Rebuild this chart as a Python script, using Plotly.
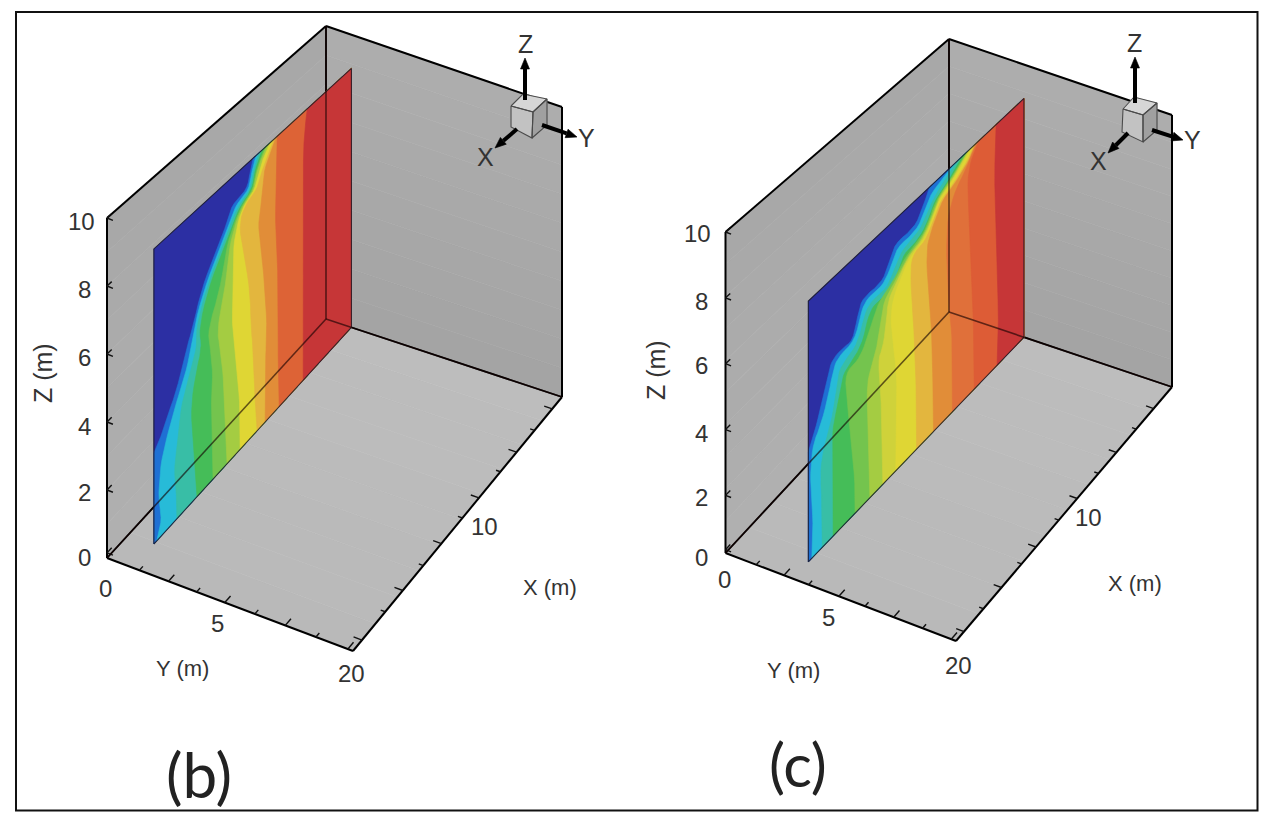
import numpy as np
import plotly.graph_objects as go

# ---- values: contour-band edges on the vertical slice, X = depth (m), Z = height (m) ----
B_EDGE_X = [
    [18, 17.45, 16.8, 15.9, 15, 14.5, 13.6, 12.25, 11.4, 10.9, 9.5, 9.2, 8.95],
    [17.73, 17.27, 17.54, 17.54, 17.36, 16.8, 16.08, 15.08, 14.6, 14.39, 13.43, 12.06, 11.24, 10.51, 9.32, 9.05, 8.68],
    [15.9, 15.9, 16.17, 15.81, 15.53, 14.71, 14.07, 14.16, 13.25, 11.88, 11.06, 10.23, 9.18, 8.91, 8.41],
    [14.07, 14.25, 14.44, 14.62, 14.16, 13.61, 13.89, 13.07, 11.7, 10.87, 10.05, 9.05, 8.77, 8.13],
    [12.61, 12.7, 12.79, 12.61, 12.88, 13.07, 11.97, 11.42, 10.74, 9.96, 8.95, 8.68, 7.86],
    [11.33, 11.42, 11.51, 11.7, 11.97, 12.24, 11.51, 11.15, 10.6, 9.87, 8.86, 8.59, 7.68],
    [10.14, 10.14, 10.14, 10.42, 10.6, 10.87, 10.78, 10.78, 10.42, 9.78, 8.77, 8.45, 7.4],
    [8.59, 8.77, 8.86, 8.95, 9.14, 9.23, 9.87, 10.23, 9.69, 8.59, 8.13, 7.04],
    [7.86, 7.86, 7.86, 7.77, 7.68, 7.86, 8.22, 8.5, 8.22, 8.13, 7.95, 6.85],
    [6.58, 6.67, 6.67, 6.67, 6.94, 6.85, 6.76],
    [4.39, 4.39, 4.39, 4.39, 4.02],
]
B_EDGE_Z = [
    [2.71, 2.92, 3.39, 3.9, 4.9, 5.26, 6.28, 6.98, 7.49, 7.95, 7.98, 8.51, 8.8],
    [0, 0.46, 1.15, 1.45, 2.2, 2.79, 3.44, 4.14, 4.78, 5.22, 6.13, 6.92, 7.44, 7.83, 7.92, 8.47, 8.8],
    [0, 0.57, 1.57, 2.35, 3.26, 4.01, 4.59, 5.15, 6.07, 6.86, 7.38, 7.74, 7.87, 8.42, 8.8],
    [0, 0.89, 1.87, 2.94, 3.83, 4.44, 5.05, 6.01, 6.8, 7.32, 7.68, 7.83, 8.38, 8.8],
    [0, 1.25, 2.3, 3.29, 4.19, 4.78, 5.65, 6.72, 7.27, 7.65, 7.8, 8.35, 8.8],
    [0, 0.78, 1.85, 2.97, 3.88, 4.5, 5.5, 6.63, 7.23, 7.62, 7.77, 8.32, 8.8],
    [0, 0.31, 1.35, 2.52, 3.4, 4.03, 5.25, 6.5, 7.17, 7.59, 7.74, 8.27, 8.8],
    [0, 0.84, 1.95, 2.81, 3.41, 4.72, 6.2, 7.11, 7.56, 7.68, 8.17, 8.8],
    [0, 0.49, 1.58, 2.38, 2.89, 4.24, 5.64, 6.54, 7.08, 7.53, 8.11, 8.8],
    [0, 1.13, 2.52, 4.23, 6.01, 7.11, 8.8],
    [0, 1.0, 4.29, 7.81, 8.8],
]
C_EDGE_X = [
    [18.6, 18.0, 17.4, 16.89, 16.54, 15.69, 14.74, 14.3, 13.89, 12.26, 11.74, 11.14, 9.43, 8.74, 8.14],
    [18.3, 18.17, 18.34, 18.43, 18.17, 17.57, 16.89, 16.46, 16.03, 14.57, 14.06, 13.54, 12.17, 11.49, 10.97, 9.26, 8.57, 8.06, 6.09],
    [17.4, 17.4, 17.57, 17.31, 16.71, 16.29, 16.03, 15.43, 14.32, 13.72, 13.12, 11.83, 11.14, 10.54, 9.17, 8.32, 7.72, 5.74],
    [16.46, 16.46, 16.46, 16.54, 16.03, 15.69, 15.0, 13.97, 13.46, 12.86, 11.57, 10.89, 10.37, 9.17, 8.32, 7.72, 6.52, 5.32],
    [14.57, 14.57, 15.0, 15.26, 15.43, 14.32, 13.72, 12.86, 12.43, 11.23, 10.29, 9.04, 8.23, 7.63, 6.43, 4.97],
    [13.29, 13.46, 13.54, 13.46, 12.86, 12.43, 12.09, 11.06, 10.12, 8.92, 8.14, 7.54, 6.34, 4.8],
    [12.17, 12.26, 12.6, 12.17, 11.83, 11.74, 10.89, 10.03, 8.79, 8.06, 7.46, 6.22, 4.72],
    [11.06, 10.97, 10.97, 11.32, 11.49, 11.32, 10.72, 9.86, 8.66, 7.97, 7.37, 6.09, 4.55],
    [9.26, 9.26, 9.34, 9.43, 9.6, 9.77, 9.69, 8.49, 7.89, 7.2, 5.92, 4.89, 4.29],
    [7.8, 7.8, 7.89, 7.89, 8.32, 8.4, 8.14, 7.72, 7.03, 5.74, 4.72, 4.2],
    [6.17, 6.17, 6.17, 6.43, 6.69, 6.6, 5.83, 5.06, 4.46, 4.03],
    [4.29, 4.29, 4.46, 4.72, 4.89, 4.46, 3.86],
    [2.32, 2.15, 2.57, 2.4],
]
C_EDGE_Z = [
    [3.58, 4.07, 4.83, 5.52, 5.82, 5.89, 5.8, 6.54, 6.91, 6.8, 7.18, 7.7, 7.6, 8.02, 8.5],
    [0, 0.97, 2.02, 2.93, 3.71, 4.01, 4.73, 5.46, 5.73, 5.74, 6.48, 6.75, 6.67, 7.02, 7.5, 7.43, 7.85, 8.24, 8.5],
    [0, 1.32, 2.5, 3.16, 3.68, 4.41, 5.2, 5.4, 5.54, 6.32, 6.52, 6.44, 6.86, 7.24, 7.3, 7.65, 8.04, 8.5],
    [0, 1.51, 2.4, 3.52, 4.21, 4.94, 5.14, 5.35, 6.09, 6.33, 6.18, 6.59, 7.07, 7.06, 7.35, 7.87, 8.1, 8.5],
    [0, 1.09, 2.92, 4.02, 4.97, 4.98, 5.25, 5.99, 6.27, 6.48, 6.9, 7.01, 7.31, 7.84, 8.07, 8.5],
    [0, 1.98, 3.35, 4.08, 4.49, 5.36, 6.13, 6.42, 6.84, 6.96, 7.28, 7.8, 8.04, 8.5],
    [0, 2.61, 4.32, 4.59, 5.37, 6.01, 6.35, 6.8, 6.91, 7.25, 7.77, 7.99, 8.5],
    [0, 2.1, 3.25, 4.5, 5.24, 5.84, 6.29, 6.74, 6.86, 7.22, 7.74, 7.94, 8.5],
    [0, 1.41, 2.6, 3.76, 4.74, 5.93, 6.74, 6.8, 7.18, 7.68, 7.87, 8.17, 8.5],
    [0, 0.82, 2.22, 3.14, 5.36, 6.42, 6.83, 7.15, 7.64, 7.84, 8.14, 8.5],
    [0, 1.31, 2.45, 3.59, 5.41, 6.93, 7.6, 7.89, 8.29, 8.5],
    [0, 1.22, 3.59, 6.02, 7.58, 8.18, 8.5],
    [0, 1.48, 6.33, 8.5],
]

# tick positions along the three box axes
B_Z_TICKS = [0.15, 2, 4, 6, 8, 10]
C_Z_TICKS = [0.35, 2, 4, 6, 8, 10]
B_Y_MAJOR = [2.57, 4.88, 7.32, 9.8]
B_Y_MINOR = [1.36, 3.73, 6.1, 8.54]
C_Y_MAJOR = [2.6, 5.0, 7.36, 9.8]
C_Y_MINOR = [1.37, 3.68, 6.13, 8.59]
B_X_MAJOR = [1.0, 4.6, 8.3, 11.9, 15.5, 19.2]
B_X_MINOR = [2.8, 6.2, 9.9, 13.6, 17.1]
C_X_MAJOR = [1.8, 5.4, 9.1, 12.9, 16.0, 19.3]
C_X_MINOR = [3.5, 7.1, 10.8, 14.2, 17.6]

# ---- styling ----
DARK_BLUE, BLUE, CYAN, TEAL = "#2c2fa3", "#1f70d4", "#27bbd8", "#38bea6"
GREEN, LT_GREEN, YL_GREEN, PALE_YELLOW = "#45bd58", "#74c44e", "#a4cc42", "#cfd23a"
YELLOW, YL_ORANGE, ORANGE = "#dfd634", "#e3b63e", "#e18d38"
DEEP_ORANGE, RED_ORANGE, RED = "#e0703a", "#dd5c36", "#c63637"

B_COLORS = [BLUE, CYAN, TEAL, GREEN, LT_GREEN, YL_GREEN, YELLOW, YL_ORANGE, ORANGE, "#dd6336", RED]
C_COLORS = [BLUE, CYAN, TEAL, GREEN, LT_GREEN, YL_GREEN, PALE_YELLOW, YELLOW, YL_ORANGE, ORANGE,
            DEEP_ORANGE, RED_ORANGE, RED]

FONT = "Liberation Sans"
TEXT_COLOR = "#333333"

# view of each box: floor corners and top-of-wall corners on the page
PANEL_B = dict(
    z_floor=0.0,
    floor=dict(front_left=(107, 558), front_right=(353, 651), back_right=(562, 397), back_left=(326, 319)),
    wall_height=dict(front_left=340, front_right=337, back_right=290, back_left=293),
    slice=dict(x_front=18.16, y_front=1.07, y_back=1.11, z_front=8.8, z_back=8.85, x_span=18.0, z_span=8.8),
    edge_x=B_EDGE_X, edge_z=B_EDGE_Z, colors=B_COLORS,
    z_ticks=B_Z_TICKS, y_major=B_Y_MAJOR, y_minor=B_Y_MINOR, x_major=B_X_MAJOR, x_minor=B_X_MINOR,
    labels=[("10", 81, 221), ("8", 84, 289), ("6", 84, 357), ("4", 84, 426), ("2", 84, 492), ("0", 84, 557),
            ("0", 105, 588), ("5", 217, 623), ("20", 351, 673), ("10", 484, 526)],
    titles=[("Y (m)", 182, 668), ("X (m)", 550, 587)],
    z_title=(43, 373),
    cube=dict(top=[(511, 106), (523, 94), (547, 99), (533, 112)],
              left=[(511, 106), (533, 112), (532, 138), (511, 127)],
              right=[(533, 112), (547, 99), (547, 125), (532, 138)]),
    arrows=[((525, 100), (525, 58)), ((542, 125), (577, 137)), ((517, 129), (495, 148))],
    triad_labels=[("Z", 525, 44), ("Y", 586, 138), ("X", 485, 157)],
    tag=("(b)", 199, 774, 62),
)
PANEL_C = dict(
    z_floor=0.25,
    floor=dict(front_left=(725.5, 553), front_right=(956, 641), back_right=(1172, 387), back_left=(949, 312)),
    wall_height=dict(front_left=321, front_right=320, back_right=272, back_left=273),
    slice=dict(x_front=18.7, y_front=3.0, y_back=3.43, z_front=8.26, z_back=8.79, x_span=18.6, z_span=8.5),
    edge_x=C_EDGE_X, edge_z=C_EDGE_Z, colors=C_COLORS,
    z_ticks=C_Z_TICKS, y_major=C_Y_MAJOR, y_minor=C_Y_MINOR, x_major=C_X_MAJOR, x_minor=C_X_MINOR,
    labels=[("10", 697, 233), ("8", 701, 301), ("6", 701, 365), ("4", 701, 433), ("2", 701, 497), ("0", 701, 557),
            ("0", 724, 579), ("5", 828, 617), ("20", 958, 665), ("10", 1088, 517)],
    titles=[("Y (m)", 793, 670), ("X (m)", 1135, 583)],
    z_title=(656, 370),
    cube=dict(top=[(1123, 109), (1134, 97), (1157, 103), (1143, 115)],
              left=[(1123, 109), (1143, 115), (1143, 142), (1122, 132)],
              right=[(1143, 115), (1157, 103), (1157, 130), (1143, 142)]),
    arrows=[((1135, 103), (1135, 57)), ((1152, 130), (1183, 140)), ((1128, 133), (1108, 153))],
    triad_labels=[("Z", 1134, 43), ("Y", 1192, 140), ("X", 1098, 161)],
    tag=("(c)", 798, 764, 60),
)


def make_view(panel):
    """Return a function taking world (X, Y, Z) to the page.

    The floor is placed by a plane homography; walls rise straight up from it
    with a height blended between the four corners.
    """
    fl, hg, z0 = panel["floor"], panel["wall_height"], panel["z_floor"]
    square = [((0, 0), fl["front_left"]), ((1, 0), fl["front_right"]),
              ((1, 1), fl["back_right"]), ((0, 1), fl["back_left"])]
    rows, rhs = [], []
    for (s, t), (u, v) in square:
        rows.append([s, t, 1, 0, 0, 0, -u * s, -u * t])
        rows.append([0, 0, 0, s, t, 1, -v * s, -v * t])
        rhs += [u, v]
    H = np.append(np.linalg.solve(np.array(rows, float), np.array(rhs, float)), 1.0).reshape(3, 3)

    def view(pts):
        pts = np.asarray(pts, float)
        s, t = pts[:, 1] / 10.0, (20.0 - pts[:, 0]) / 20.0
        w = H @ np.vstack([s, t, np.ones(len(pts))])
        u, v = w[0] / w[2], w[1] / w[2]
        height = (hg["front_left"] * (1 - s) * (1 - t) + hg["front_right"] * s * (1 - t)
                  + hg["back_left"] * (1 - s) * t + hg["back_right"] * s * t)
        return np.c_[u, v - height * (pts[:, 2] - z0) / (10.0 - z0)]

    return view


def chaikin(pts, rounds=2):
    """Round off the corners of a polyline, keeping both ends fixed."""
    for _ in range(rounds):
        q = 0.75 * pts[:-1] + 0.25 * pts[1:]
        r = 0.25 * pts[:-1] + 0.75 * pts[1:]
        mid = np.empty((2 * len(q), 2))
        mid[0::2], mid[1::2] = q, r
        pts = np.vstack([pts[0], mid, pts[-1]])
    return pts


fig = go.Figure()


def polygon(pts, color):
    pts = np.asarray(pts, float)
    fig.add_trace(go.Scatter(x=list(pts[:, 0]) + [pts[0, 0]], y=list(pts[:, 1]) + [pts[0, 1]],
                             mode="lines", fill="toself", fillcolor=color,
                             line=dict(color=color, width=0.6), hoverinfo="skip", showlegend=False))


def polyline(pts, color, width):
    pts = np.asarray(pts, float)
    fig.add_trace(go.Scatter(x=pts[:, 0], y=pts[:, 1], mode="lines",
                             line=dict(color=color, width=width), hoverinfo="skip", showlegend=False))


def segments(pairs, color, width):
    xs, ys = [], []
    for a, b in pairs:
        xs += [a[0], b[0], None]
        ys += [a[1], b[1], None]
    fig.add_trace(go.Scatter(x=xs, y=ys, mode="lines", line=dict(color=color, width=width),
                             hoverinfo="skip", showlegend=False))


def grey(level):
    v = int(round(level))
    return f"rgb({v},{v},{v})"


def shaded_wall(view, corner, du, dv, start, stop, steps=10):
    """Paint a wall as thin strips stepping from one grey to another along dv."""
    corner, du, dv = map(lambda a: np.asarray(a, float), (corner, du, dv))
    for k in range(steps):
        a = corner + dv * k / steps
        b = corner + dv * (k + 1) / steps
        polygon(view([a, a + du, b + du, b]), grey(start + (stop - start) * (k + 0.5) / steps))


def text(x, y, label, size, family=FONT, color=TEXT_COLOR, angle=0):
    fig.add_annotation(x=x, y=y, text=label, showarrow=False, xanchor="center", yanchor="middle",
                       textangle=angle, font=dict(family=family, size=size, color=color))


def draw_panel(panel):
    view = make_view(panel)
    z0 = panel["z_floor"]
    h = 10 - z0

    # box walls and floor
    shaded_wall(view, (20, 0, z0), (-20, 0, 0), (0, 0, h), 176, 168)
    shaded_wall(view, (0, 0, z0), (0, 10, 0), (0, 0, h), 163, 174)
    shaded_wall(view, (20, 0, z0), (0, 10, 0), (-20, 0, 0), 185, 189)

    edge = lambda a, b: view([a, b])
    behind = [edge((20, 0, z0), (0, 0, z0)), edge((0, 0, z0), (0, 10, z0)), edge((0, 0, z0), (0, 0, 10))]
    for seg in behind:
        polyline(seg, "#000000", 1.8)
    for a, b in [((20, 0, z0), (20, 0, 10)), ((20, 0, 10), (0, 0, 10)), ((0, 0, 10), (0, 10, 10)),
                 ((0, 10, z0), (0, 10, 10)), ((0, 10, z0), (20, 10, z0)), ((20, 10, z0), (20, 0, z0))]:
        polyline(edge(a, b), "#000000", 2)

    # axis tick marks
    ticks = []
    for z in panel["z_ticks"]:
        ticks.append(edge((20, 0, z), (19.6, 0, z)))
        ticks.append(edge((20, 0, z), (20, 0.25, z)))
    for y, dx in [(v, 0.5) for v in panel["y_major"]] + [(v, 0.3) for v in panel["y_minor"]]:
        ticks.append(edge((20, y, z0), (20 - dx, y, z0)))
    for x, dy in [(v, 0.33) for v in panel["x_major"]] + [(v, 0.18) for v in panel["x_minor"]]:
        ticks.append(edge((x, 10, z0), (x, 10 - dy, z0)))
    segments(ticks, "#111111", 1.4)

    # the slice: four projected corners, interpolated across in (X, Z)
    s = panel["slice"]
    fb, bb, ft, bt = view([(s["x_front"], s["y_front"], z0), (0, s["y_back"], z0),
                           (s["x_front"], s["y_front"], s["z_front"]), (0, s["y_back"], s["z_back"])])

    def on_slice(xs, zs):
        t = 1 - np.asarray(xs, float)[:, None] / s["x_span"]
        f = np.asarray(zs, float)[:, None] / s["z_span"]
        bottom = fb + (bb - fb) * t
        top = ft + (bt - ft) * t
        return bottom + (top - bottom) * f

    polygon([fb, bb, bt, ft], DARK_BLUE)
    for xs, zs, color in zip(panel["edge_x"], panel["edge_z"], panel["colors"]):
        curve = chaikin(on_slice(xs, zs))
        closing = [bt, bb] if zs[0] == 0 else [bt, bb, fb]
        polygon(np.vstack([curve, closing]), color)
    polyline([fb, bb, bt, ft, fb], "rgba(25,25,40,0.85)", 1.1)

    # box edges seen through the translucent slice
    for seg in behind:
        polyline(seg, "rgba(20,0,0,0.62)", 1.6)

    # orientation cube and arrows
    cube = panel["cube"]
    polygon(cube["left"], "#c2c2c2")
    polygon(cube["right"], "#a0a0a0")
    polygon(cube["top"], "#d6d6d6")
    for face in cube.values():
        polyline(np.vstack([face, face[:1]]), "#4a4a4a", 1.1)
    for tail, tip in panel["arrows"]:
        tail, tip = np.array(tail, float), np.array(tip, float)
        along = (tip - tail) / np.linalg.norm(tip - tail)
        across = np.array([-along[1], along[0]])
        neck = tip - along * 11
        polyline([tail, neck], "#000000", 4)
        polygon([tip, neck + across * 4.5, neck - across * 4.5], "#000000")

    # text
    for label, x, y in panel["labels"]:
        text(x, y, label, 24)
    for label, x, y in panel["titles"]:
        text(x, y, label, 22)
    text(panel["z_title"][0], panel["z_title"][1], "Z (m)", 25, angle=-90)
    for label, x, y in panel["triad_labels"]:
        text(x, y, label, 25)
    tag, x, y, size = panel["tag"]
    text(x, y, tag, size, family="Lato", color="#222222")


draw_panel(PANEL_B)
draw_panel(PANEL_C)

fig.add_shape(type="rect", x0=16, y0=12, x1=1257.5, y1=810.5, line=dict(color="#111111", width=2))
fig.update_layout(
    width=1273, height=820, margin=dict(l=0, r=0, t=0, b=0),
    paper_bgcolor="white", plot_bgcolor="white", showlegend=False,
    xaxis=dict(range=[0, 1273], visible=False, fixedrange=True),
    yaxis=dict(range=[820, 0], visible=False, fixedrange=True),
)
fig.write_html("out.html")
